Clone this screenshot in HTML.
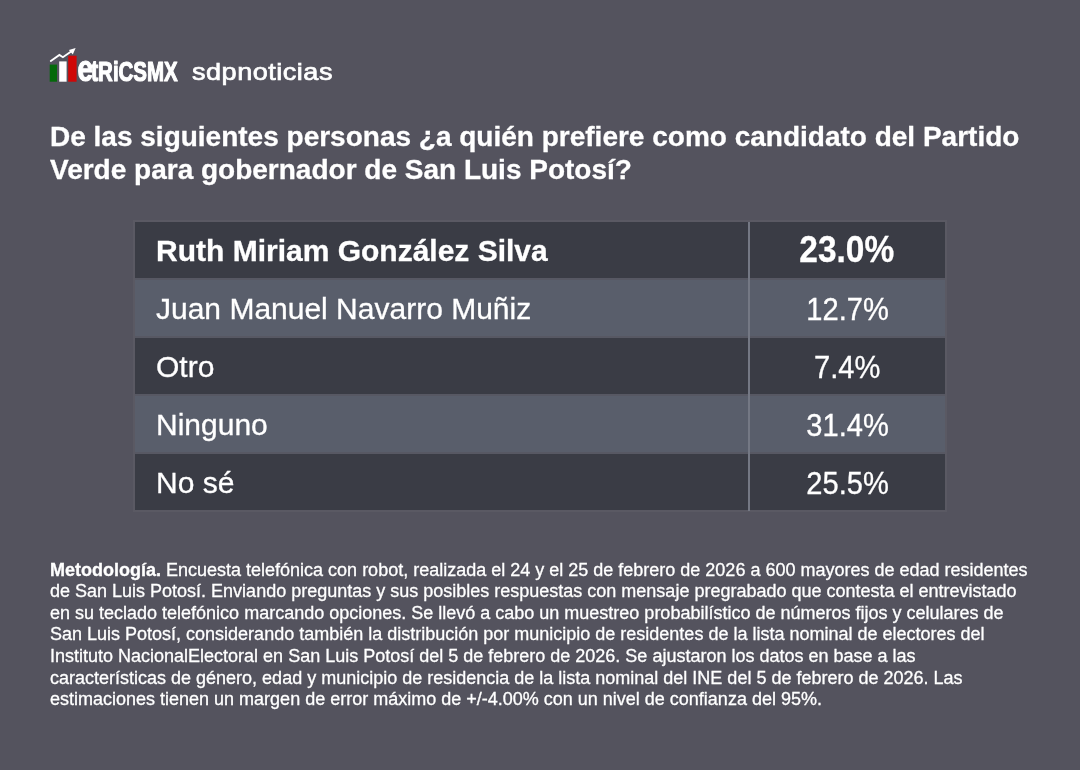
<!DOCTYPE html>
<html lang="es">
<head>
<meta charset="utf-8">
<title>Encuesta MetricsMX - sdpnoticias</title>
<style>
  html, body { margin: 0; padding: 0; }
  body {
    width: 1080px; height: 770px; overflow: hidden; position: relative;
    background: #54535e;
    font-family: "Liberation Sans", sans-serif;
    color: #ffffff;
  }
  .abs { position: absolute; white-space: nowrap; }
  .logo-svg { position: absolute; left: 40px; top: 40px; }
  .sdp { left: 191.8px; top: 57.4px; font-size: 24.5px; line-height: 30px; letter-spacing: 0.45px;
    transform-origin: 0 0; transform: scaleX(1.105); -webkit-text-stroke: 0.7px #ffffff; }
  .title { left: 50px; font-size: 28px; line-height: 33px; font-weight: bold; -webkit-text-stroke: 0.3px #ffffff; }
  .t1 { top: 119.9px; }
  .t2 { top: 153px; }
  .table { position: absolute; left: 135px; top: 222px; width: 810px; height: 288px; background: #575863; box-shadow: 0 0 0 2px rgba(255,255,255,0.035); -webkit-text-stroke: 0.3px #ffffff; }
  .row { position: absolute; left: 0; width: 810px; height: 56px; }
  .dark { background: #3a3c45; }
  .light { background: #595e6b; }
  .name { position: absolute; left: 21px; top: 0.5px; height: 56px; line-height: 56px; font-size: 30px; white-space: nowrap; }
  .pct { position: absolute; left: 615px; width: 195px; top: 0; height: 56px; line-height: 59px; font-size: 30px; text-align: center; }
  .pct.big { line-height: 57px; }
  .b { font-weight: bold; }
  .big { font-size: 35.8px; }
  .pct span { display: inline-block; transform: scale(0.97,1.045); }
  .pct.big span { transform: scale(0.935,1.04); position: relative; left: -0.8px; }
  .vline { position: absolute; left: 613px; top: 0; width: 2px; height: 289px; background: #747884; }
  .met { left: 50px; font-size: 18px; line-height: 21.6px; -webkit-text-stroke: 0.3px #ffffff; }
</style>
</head>
<body>

<svg class="logo-svg" width="160" height="50" viewBox="40 40 160 50">
  <rect x="49.7" y="64.6" width="7.3" height="17.1" fill="#04690a"/>
  <rect x="59.2" y="61.4" width="7.4" height="20.3" fill="#ffffff"/>
  <rect x="68.2" y="55.7" width="8.4" height="26" fill="#d00707"/>
  <polyline points="50.8,61 59.4,55 62.9,57.2 71.5,51.2" fill="none" stroke="#ffffff" stroke-width="1.9" stroke-linejoin="miter" stroke-linecap="round"/>
  <polygon points="75.6,48 68.9,50 72.8,54.4" fill="#ffffff"/>
  <g transform="translate(77.6,81.2) scale(0.745,1)">
    <text x="0" y="0" font-family="'Liberation Sans', sans-serif" font-weight="bold" font-size="27.5" fill="#ffffff" stroke="#ffffff" stroke-width="1.2" stroke-linejoin="round"><tspan font-size="37.5">e</tspan><tspan font-size="29" dx="-3">t</tspan>RiCSMX</text>
  </g>
</svg>
<div class="abs sdp">sdpnoticias</div>

<div class="abs title t1">De las siguientes personas ¿a quién prefiere como candidato del Partido</div>
<div class="abs title t2">Verde para gobernador de San Luis Potosí?</div>

<div class="table">
  <div class="row dark" style="top:0"><div class="name b">Ruth Miriam González Silva</div><div class="pct b big"><span>23.0%</span></div></div>
  <div class="row light" style="top:58px"><div class="name">Juan Manuel Navarro Muñiz</div><div class="pct"><span>12.7%</span></div></div>
  <div class="row dark" style="top:116px"><div class="name">Otro</div><div class="pct"><span>7.4%</span></div></div>
  <div class="row light" style="top:174px"><div class="name">Ninguno</div><div class="pct"><span>31.4%</span></div></div>
  <div class="row dark" style="top:232px"><div class="name">No sé</div><div class="pct"><span>25.5%</span></div></div>
  <div class="vline"></div>
</div>

<div class="abs met" style="top:559.6px"><b>Metodología.</b> Encuesta telefónica con robot, realizada el 24 y el 25 de febrero de 2026 a 600 mayores de edad residentes</div>
<div class="abs met" style="top:581.2px">de San Luis Potosí. Enviando preguntas y sus posibles respuestas con mensaje pregrabado que contesta el entrevistado</div>
<div class="abs met" style="top:602.8px">en su teclado telefónico marcando opciones. Se llevó a cabo un muestreo probabilístico de números fijos y celulares de</div>
<div class="abs met" style="top:624.4px">San Luis Potosí, considerando también la distribución por municipio de residentes de la lista nominal de electores del</div>
<div class="abs met" style="top:646.0px">Instituto NacionalElectoral en San Luis Potosí del 5 de febrero de 2026. Se ajustaron los datos en base a las</div>
<div class="abs met" style="top:667.6px">características de género, edad y municipio de residencia de la lista nominal del INE del 5 de febrero de 2026. Las</div>
<div class="abs met" style="top:689.2px">estimaciones tienen un margen de error máximo de +/-4.00% con un nivel de confianza del 95%.</div>

</body>
</html>
